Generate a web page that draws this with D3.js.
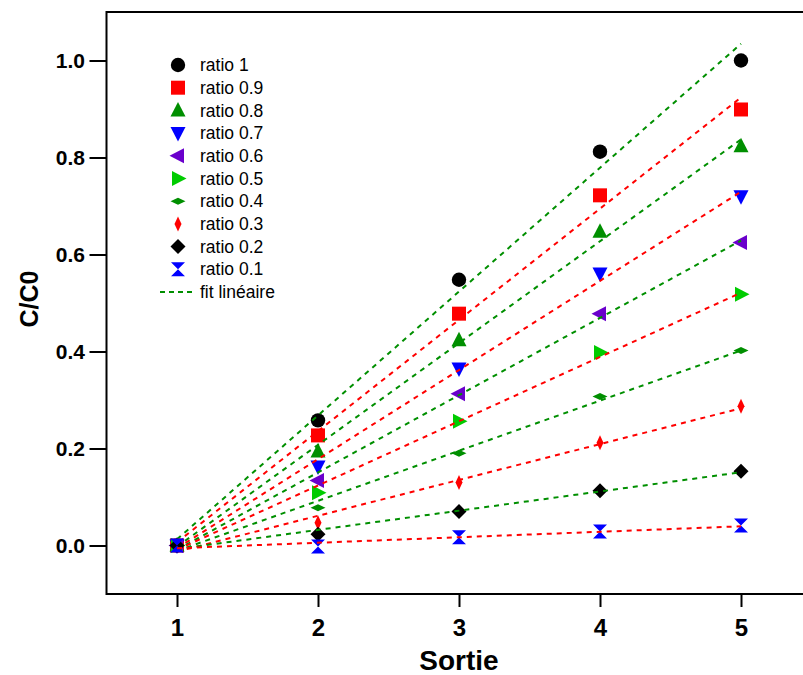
<!DOCTYPE html>
<html>
<head>
<meta charset="utf-8">
<script src="https://cdn.jsdelivr.net/npm/d3@7"></script>
<style>
  html, body { margin: 0; padding: 0; background: #fff; }
  svg { display: block; font-family: "Liberation Sans", Arial, sans-serif; }
</style>
</head>
<body>
<svg id="chart" width="803" height="675"></svg>
<script>
(function () {
  'use strict';

  // --- data ---
  var sorties = [1, 2, 3, 4, 5];
  var labels = ['ratio 1', 'ratio 0.9', 'ratio 0.8', 'ratio 0.7', 'ratio 0.6',
                'ratio 0.5', 'ratio 0.4', 'ratio 0.3', 'ratio 0.2', 'ratio 0.1'];
  var ratio10 = [0, 0.258, 0.548, 0.812, 1.000];
  var ratio09 = [0, 0.227, 0.478, 0.722, 0.899];
  var ratio08 = [0, 0.194, 0.423, 0.647, 0.823];
  var ratio07 = [0, 0.163, 0.365, 0.561, 0.720];
  var ratio06 = [0, 0.134, 0.313, 0.478, 0.625];
  var ratio05 = [0, 0.109, 0.256, 0.398, 0.518];
  var ratio04 = [0, 0.078, 0.190, 0.307, 0.402];
  var ratio03 = [0, 0.047, 0.130, 0.212, 0.287];
  var ratio02 = [0, 0.023, 0.070, 0.113, 0.153];
  var ratio01 = [0, -0.002, 0.017, 0.029, 0.041];
  var yTicks = [0, 0.2, 0.4, 0.6, 0.8, 1.0];
  var xTicks = [1, 2, 3, 4, 5];

  var GREEN = '#008f00', RED = '#ff0000', BLUE = '#0000ff';

  // marker shapes, centred on 0,0
  function circle(r) {
    return 'M' + r + ',0A' + r + ',' + r + ' 0 1,1 ' + (-r) + ',0A' + r + ',' + r + ' 0 1,1 ' + r + ',0Z';
  }
  function poly(pts) {
    return 'M' + pts.map(function (p) { return p.join(','); }).join('L') + 'Z';
  }
  var shapes = {
    circle: function () { return circle(7.2); },
    square: function () { return poly([[-7, -7], [7, -7], [7, 7], [-7, 7]]); },
    up: function () { return poly([[0, -8.5], [7.5, 6], [-7.5, 6]]); },
    down: function () { return poly([[0, 8.5], [7.5, -6], [-7.5, -6]]); },
    left: function () { return poly([[-8.5, 0], [6, -7.5], [6, 7.5]]); },
    right: function () { return poly([[8.5, 0], [-6, -7.5], [-6, 7.5]]); },
    flat: function () { return poly([[-7.5, 0], [0, -3.5], [7.5, 0], [0, 3.5]]); },
    tall: function () { return poly([[0, -7.5], [3.5, 0], [0, 7.5], [-3.5, 0]]); },
    diamond: function () { return poly([[0, -7.5], [7.5, 0], [0, 7.5], [-7.5, 0]]); },
    bowtie: function () { return 'M-7,-7L7,-7L0,0L7,7L-7,7L0,0Z'; }
  };

  var series = [
    { name: labels[0], values: ratio10, shape: 'circle', color: '#000000', fit: GREEN },
    { name: labels[1], values: ratio09, shape: 'square', color: RED, fit: RED },
    { name: labels[2], values: ratio08, shape: 'up', color: GREEN, fit: GREEN },
    { name: labels[3], values: ratio07, shape: 'down', color: BLUE, fit: RED },
    { name: labels[4], values: ratio06, shape: 'left', color: '#6a00cc', fit: GREEN },
    { name: labels[5], values: ratio05, shape: 'right', color: '#00cc00', fit: RED },
    { name: labels[6], values: ratio04, shape: 'flat', color: GREEN, fit: GREEN },
    { name: labels[7], values: ratio03, shape: 'tall', color: RED, fit: RED },
    { name: labels[8], values: ratio02, shape: 'diamond', color: '#000000', fit: GREEN },
    { name: labels[9], values: ratio01, shape: 'bowtie', color: BLUE, fit: RED }
  ];

  // least-squares line through each series (the "fit linéaire")
  function linFit(xs, ys) {
    var mx = d3.mean(xs), my = d3.mean(ys);
    var num = d3.sum(xs, function (x, i) { return (x - mx) * (ys[i] - my); });
    var den = d3.sum(xs, function (x) { return (x - mx) * (x - mx); });
    var b = num / den;
    return { a: my - b * mx, b: b };
  }

  var svg = d3.select('#chart');
  var x = d3.scaleLinear().domain([0.5, 5.5]).range([106.5, 811.5]);
  var y = d3.scaleLinear().domain([-0.1, 1.1]).range([594, 12]);

  // frame (left, top, bottom; right side runs past the window)
  svg.append('path')
    .attr('d', 'M' + 830 + ',' + y(1.1) + 'H' + x(0.5) + 'V' + y(-0.1) + 'H' + 830)
    .attr('fill', 'none')
    .attr('stroke', '#000')
    .attr('stroke-width', 2);

  // Y axis
  var gy = svg.append('g')
    .attr('transform', 'translate(' + x(0.5) + ',0)')
    .call(d3.axisLeft(y).tickValues(yTicks).tickFormat(d3.format('.1f')).tickSize(17).tickPadding(4.5));
  gy.select('.domain').remove();
  gy.selectAll('line').attr('stroke', '#000').attr('stroke-width', 2);
  gy.selectAll('text')
    .attr('fill', '#000')
    .style('font-size', '21px')
    .style('font-weight', 'bold')
    .style('font-family', '"Liberation Sans", Arial, sans-serif');

  // X axis
  var gx = svg.append('g')
    .attr('transform', 'translate(0,' + y(-0.1) + ')')
    .call(d3.axisBottom(x).tickValues(xTicks).tickFormat(d3.format('d')).tickSize(13).tickPadding(12));
  gx.select('.domain').remove();
  gx.selectAll('line').attr('stroke', '#000').attr('stroke-width', 2);
  gx.selectAll('text')
    .attr('fill', '#000')
    .style('font-size', '24px')
    .style('font-weight', 'bold')
    .style('font-family', '"Liberation Sans", Arial, sans-serif');

  // axis titles
  svg.append('text')
    .attr('transform', 'translate(38,299) rotate(-90)')
    .attr('text-anchor', 'middle')
    .style('font-size', '25px')
    .style('font-weight', 'bold')
    .text('C/C0');

  svg.append('text')
    .attr('x', x(3))
    .attr('y', 670)
    .attr('text-anchor', 'middle')
    .style('font-size', '28px')
    .style('font-weight', 'bold')
    .text('Sortie');

  // markers then their fit, series by series
  var plot = svg.append('g');
  var line = d3.line().x(function (d) { return x(d[0]); }).y(function (d) { return y(d[1]); });

  series.forEach(function (s) {
    var f = linFit(sorties, s.values);
    plot.append('g')
      .selectAll('path')
      .data(s.values)
      .join('path')
      .attr('transform', function (d, i) { return 'translate(' + x(sorties[i]) + ',' + y(d) + ')'; })
      .attr('d', shapes[s.shape]())
      .attr('fill', s.color);

    var x0 = d3.min(sorties), x1 = d3.max(sorties);
    plot.append('path')
      .datum([[x0, f.a + f.b * x0], [x1, f.a + f.b * x1]])
      .attr('d', line)
      .attr('fill', 'none')
      .attr('stroke', s.fit)
      .attr('stroke-width', 2)
      .attr('stroke-dasharray', '5,5');
  });

  // legend
  var legend = svg.append('g');
  var rowY = d3.scaleLinear().domain([0, 10]).range([65, 292]);

  series.forEach(function (s, i) {
    legend.append('path')
      .attr('transform', 'translate(178,' + rowY(i) + ')')
      .attr('d', shapes[s.shape]())
      .attr('fill', s.color);
    legend.append('text')
      .attr('x', 200)
      .attr('y', rowY(i))
      .attr('dy', '0.35em')
      .style('font-size', '17.5px')
      .text(s.name);
  });

  legend.append('line')
    .attr('x1', 160).attr('x2', 195)
    .attr('y1', rowY(10)).attr('y2', rowY(10))
    .attr('stroke', GREEN)
    .attr('stroke-width', 2)
    .attr('stroke-dasharray', '5,4');
  legend.append('text')
    .attr('x', 200)
    .attr('y', rowY(10))
    .attr('dy', '0.35em')
    .style('font-size', '17.5px')
    .text('fit linéaire');
})();
</script>
</body>
</html>
